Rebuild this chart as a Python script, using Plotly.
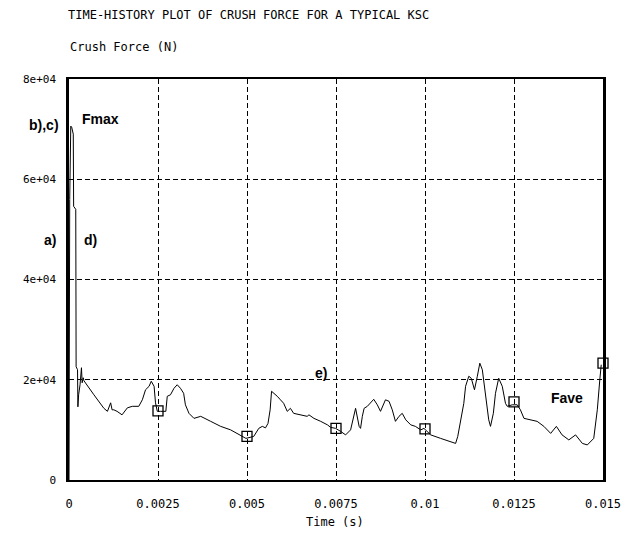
import plotly.graph_objects as go

# ---- data ----
time_s = [0.0, 0.00002, 0.00005, 0.000075, 0.00012, 0.00013, 0.00019, 0.0002, 0.00024, 0.00025,
          0.00027, 0.00031, 0.00035, 0.00037, 0.0004, 0.00042, 0.0007, 0.00098, 0.00108, 0.00117,
          0.00121, 0.00126, 0.00135, 0.00149, 0.00164, 0.00178, 0.00196, 0.00206, 0.00215, 0.00225,
          0.00231, 0.00239, 0.00243, 0.00248, 0.00257, 0.00272, 0.00276, 0.00285, 0.00295, 0.00304,
          0.00313, 0.00322, 0.00327, 0.00337, 0.00351, 0.0037, 0.00398, 0.00426, 0.00454, 0.00482,
          0.00497, 0.00519, 0.00533, 0.00543, 0.00552, 0.00559, 0.00565, 0.00569, 0.00576, 0.00585,
          0.00594, 0.00603, 0.00613, 0.00622, 0.00631, 0.0065, 0.00669, 0.00674, 0.00688, 0.00707,
          0.00726, 0.00735, 0.00749, 0.00763, 0.00777, 0.00791, 0.008, 0.00805, 0.00815, 0.00819,
          0.00824, 0.00829, 0.00838, 0.00847, 0.00856, 0.00866, 0.00875, 0.00889, 0.00899, 0.00908,
          0.00917, 0.00927, 0.00936, 0.00946, 0.0096, 0.00973, 0.00988, 0.00997, 0.01016, 0.01044,
          0.01072, 0.01086, 0.01092, 0.01098, 0.01109, 0.01114, 0.01123, 0.0113, 0.01139, 0.01147,
          0.01154, 0.01161, 0.0117, 0.01179, 0.01184, 0.01192, 0.01198, 0.01207, 0.01217, 0.01226,
          0.01231, 0.01245, 0.01259, 0.01268, 0.01278, 0.01297, 0.01315, 0.01334, 0.01353, 0.01369,
          0.01385, 0.01404, 0.01423, 0.01442, 0.01456, 0.01474, 0.01484, 0.01491, 0.01495]
crush_force_N = [0, 56000, 70600, 70400, 69000, 54600, 54000, 22600, 22000, 14600,
                 17000, 19000, 22400, 19400, 20400, 19800, 17000, 14300, 13700, 15400,
                 14000, 14000, 13700, 13000, 14400, 14700, 14700, 16000, 18000, 18700,
                 19700, 18700, 15400, 13700, 13700, 13700, 16700, 17000, 18300, 19000,
                 18300, 17300, 15000, 13300, 12300, 12700, 11700, 10700, 10000, 9000,
                 8300, 8700, 10300, 10700, 10400, 11300, 14000, 17700, 17300, 16700,
                 16000, 15300, 13700, 14300, 13300, 13000, 12700, 13000, 12300, 11700,
                 11000, 10500, 10300, 9700, 9000, 10000, 12700, 14300, 10700, 10300,
                 12700, 14300, 14700, 15300, 16100, 15000, 13700, 16000, 15700, 14000,
                 11700, 12700, 13300, 12000, 11000, 10700, 10000, 10300, 9000, 8300,
                 7700, 7300, 8700, 11300, 15300, 18700, 20700, 20300, 18000, 20700,
                 23300, 22000, 17300, 12000, 10700, 13300, 17300, 20300, 18700, 15300,
                 14700, 15000, 15000, 14000, 12300, 12000, 11700, 10700, 9300, 10700,
                 9000, 8000, 9000, 7300, 7000, 8300, 14000, 20000, 23000]

marker_time_s = [0.0025, 0.005, 0.0075, 0.01, 0.0125, 0.015]
marker_force_N = [13800, 8700, 10300, 10200, 15600, 23300]

x_tick_vals = [0, 0.0025, 0.005, 0.0075, 0.01, 0.0125, 0.015]
x_tick_text = ["0", "0.0025", "0.005", "0.0075", "0.01", "0.0125", "0.015"]
y_tick_vals = [0, 20000, 40000, 60000, 80000]
y_tick_text = ["0", "2e+04", "4e+04", "6e+04", "8e+04"]

MONO = "DejaVu Sans Mono"
SANS = "Liberation Sans"

# page offset of the figure div (body margin)
OFF = 8
W, H = 636 - OFF, 539 - OFF
PL, PT, PR, PB = 69, 79, 603, 480          # plot-area edges in window pixels
PW, PH = PR - PL, PB - PT


def px(xp):
    return (xp - PL) / PW


def py(yp):
    return (PB - yp) / PH


fig = go.Figure()
fig.add_trace(go.Scatter(x=time_s, y=crush_force_N, mode="lines",
                         line=dict(color="black", width=1), showlegend=False))
fig.add_trace(go.Scatter(x=marker_time_s, y=marker_force_N, mode="markers",
                         marker=dict(symbol="square-open", size=10, color="black",
                                     line=dict(width=1.3, color="black")),
                         showlegend=False, cliponaxis=False))

fig.update_layout(
    width=W, height=H,
    margin=dict(l=PL - OFF, r=636 - PR, t=PT - OFF, b=539 - PB),
    paper_bgcolor="white", plot_bgcolor="white",
    title=dict(text="TIME-HISTORY PLOT OF CRUSH FORCE FOR A TYPICAL KSC",
               x=(68 - OFF) / W, xanchor="left", xref="container",
               y=1 - (15 - OFF) / H, yanchor="middle",
               font=dict(family=MONO, size=12, color="black")),
    xaxis=dict(range=[0, 0.015], tickvals=x_tick_vals, ticktext=x_tick_text,
               showgrid=True, gridcolor="black", griddash="5px,3px", gridwidth=1,
               showline=True, linecolor="black", linewidth=2, mirror=True,
               ticks="", ticklabelstandoff=12, zeroline=False,
               tickfont=dict(family=MONO, size=12, color="black")),
    yaxis=dict(range=[0, 80000], tickvals=y_tick_vals, ticktext=y_tick_text,
               showgrid=True, gridcolor="black", griddash="5px,3px", gridwidth=1,
               showline=True, linecolor="black", linewidth=2.5, mirror=True,
               ticks="", ticklabelstandoff=8, zeroline=False,
               tickfont=dict(family=MONO, size=11, color="black")),
    annotations=[
        dict(text="Crush Force (N)", xref="paper", yref="paper", x=px(68), y=py(47),
             xanchor="left", yanchor="middle", showarrow=False,
             font=dict(family=MONO, size=12, color="black")),
        dict(text="Time (s)", xref="paper", yref="paper", x=px(335), y=py(522),
             xanchor="center", yanchor="middle", showarrow=False,
             font=dict(family=MONO, size=12, color="black")),
        dict(text="<b>b),c)</b>", xref="paper", yref="paper", x=px(61), y=py(125),
             xanchor="right", yanchor="middle", showarrow=False,
             font=dict(family=SANS, size=14, color="black")),
        dict(text="<b>Fmax</b>", xref="paper", yref="paper", x=px(80), y=py(119),
             xanchor="left", yanchor="middle", showarrow=False,
             font=dict(family=SANS, size=14, color="black")),
        dict(text="<b>a)</b>", xref="paper", yref="paper", x=px(58), y=py(240),
             xanchor="right", yanchor="middle", showarrow=False,
             font=dict(family=SANS, size=14, color="black")),
        dict(text="<b>d)</b>", xref="paper", yref="paper", x=px(82), y=py(240),
             xanchor="left", yanchor="middle", showarrow=False,
             font=dict(family=SANS, size=14, color="black")),
        dict(text="<b>e)</b>", xref="paper", yref="paper", x=px(313), y=py(373),
             xanchor="left", yanchor="middle", showarrow=False,
             font=dict(family=SANS, size=14, color="black")),
        dict(text="<b>Fave</b>", xref="paper", yref="paper", x=px(549), y=py(398),
             xanchor="left", yanchor="middle", showarrow=False,
             font=dict(family=SANS, size=14, color="black")),
    ],
)

fig.write_html("out.html")
